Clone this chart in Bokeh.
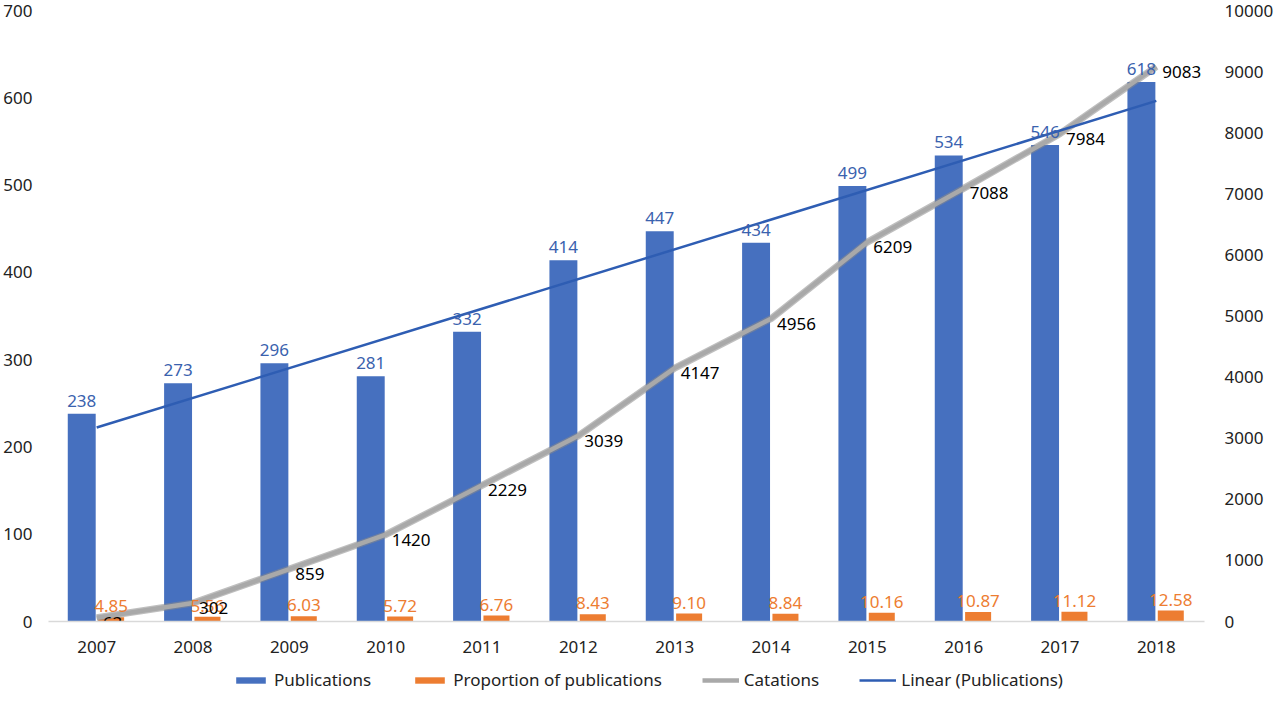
import numpy as np
from bokeh.plotting import figure
from bokeh.layouts import column
from bokeh.models import FactorRange, Range1d, LinearAxis, Legend, LegendItem, ColumnDataSource, FixedTicker
from bokeh.transform import dodge
from bokeh.core.properties import value
from bokeh.embed import file_html
from bokeh.resources import INLINE

years = [str(y) for y in range(2007, 2019)]
publications = [238, 273, 296, 281, 332, 414, 447, 434, 499, 534, 546, 618]
proportion = [4.85, 5.56, 6.03, 5.72, 6.76, 8.43, 9.10, 8.84, 10.16, 10.87, 11.12, 12.58]
citations = [63, 302, 859, 1420, 2229, 3039, 4147, 4956, 6209, 7088, 7984, 9083]
left_ticks = [0, 100, 200, 300, 400, 500, 600, 700]
right_ticks = [0, 1000, 2000, 3000, 4000, 5000, 6000, 7000, 8000, 9000, 10000]
series_names = ["Publications", "Proportion of publications", "Catations", "Linear (Publications)"]

FONT = "Noto Sans"
BLUE = "#4670BF"
ORANGE = "#ED7D31"
GRAY = "#A9A9A9"
TREND = "#2E5DB3"

src = ColumnDataSource(dict(
    year=years,
    pub=publications,
    prop=proportion,
    cit=citations,
    pub_lbl=[str(v) for v in publications],
    prop_lbl=["%.2f" % v for v in proportion],
    cit_lbl=[str(v) for v in citations],
))

p = figure(x_range=FactorRange(factors=years, range_padding=0),
           y_range=Range1d(0, 700),
           frame_width=1156, frame_height=611, output_backend="svg", toolbar_location=None,
           min_border_left=40, min_border_right=68, min_border_top=10, min_border_bottom=40)
p.extra_y_ranges = {"cit": Range1d(0, 10000)}
p.outline_line_color = None
p.xgrid.grid_line_color = None
p.ygrid.grid_line_color = None

p.vbar(x=dodge("year", -0.155, range=p.x_range), top="pub", width=0.29,
       source=src, fill_color=BLUE, line_color=None)
p.vbar(x=dodge("year", 0.15, range=p.x_range), top="prop", width=0.27,
       source=src, fill_color=ORANGE, line_color=None)

# citations line (right axis)
p.line(x="year", y="cit", source=src, y_range_name="cit", line_color="#8A8A8A",
       line_width=7, line_alpha=0.55, line_join="round")
p.line(x="year", y="cit", source=src, y_range_name="cit", line_color=GRAY,
       line_width=4.5, line_join="round")

# linear trend of publications
xi = np.arange(len(publications))
k, b = np.polyfit(xi, publications, 1)
p.line(x=[years[0], years[-1]], y=[b, b + k * xi[-1]], line_color=TREND, line_width=2.5)

# labels
p.text(x=dodge("year", -0.155, range=p.x_range), y="pub", text="pub_lbl", source=src,
       text_align="center", text_baseline="bottom", y_offset=-7,
       text_color="#3A62AE", text_font=value(FONT), text_font_size="17px")
p.text(x=dodge("year", 0.15, range=p.x_range), y="prop", text="prop_lbl", source=src,
       text_align="center", text_baseline="bottom", y_offset=-5,
       text_color=ORANGE, text_font=value(FONT), text_font_size="17px")
p.text(x="year", y="cit", text="cit_lbl", source=src, y_range_name="cit",
       text_align="left", text_baseline="middle", x_offset=6, y_offset=5,
       text_color="black", text_font=value(FONT), text_font_size="17px")

# axes
for ax in [p.xaxis[0], p.yaxis[0]]:
    ax.major_tick_line_color = None
    ax.minor_tick_line_color = None
    ax.major_label_text_font = FONT
    ax.major_label_text_font_size = "17px"
    ax.major_label_text_color = "#222222"
p.xaxis.axis_line_color = "#D9D9D9"
p.xaxis.axis_line_width = 1.5
p.xaxis.major_label_standoff = 13
p.yaxis.axis_line_color = None
p.yaxis.ticker = FixedTicker(ticks=left_ticks)
p.yaxis.major_label_standoff = 10

rax = LinearAxis(y_range_name="cit", ticker=FixedTicker(ticks=right_ticks))
rax.axis_line_color = None
rax.major_tick_line_color = None
rax.minor_tick_line_color = None
rax.major_label_text_font = FONT
rax.major_label_text_font_size = "17px"
rax.major_label_text_color = "#222222"
rax.major_label_standoff = 14
p.add_layout(rax, "right")

# legend strip (sample glyphs sit outside its visible range)
lg = figure(width=1264, height=32, x_range=Range1d(0, 1), y_range=Range1d(0, 1),
            x_axis_location=None, y_axis_location=None,
            output_backend="svg", toolbar_location=None, min_border=0)
lg.grid.grid_line_color = None
lg.outline_line_color = None
r1 = lg.vbar(x=[-5], top=[-4], bottom=[-5], width=0.1, fill_color=BLUE, line_color=None)
r2 = lg.vbar(x=[-5], top=[-4], bottom=[-5], width=0.1, fill_color=ORANGE, line_color=None)
r3 = lg.line(x=[-5, -4], y=[-5, -5], line_color=GRAY, line_width=4.5)
r4 = lg.line(x=[-5, -4], y=[-5, -5], line_color=TREND, line_width=2.5)

legend = Legend(items=[
    LegendItem(label=series_names[0], renderers=[r1]),
    LegendItem(label=series_names[1], renderers=[r2]),
    LegendItem(label=series_names[2], renderers=[r3]),
    LegendItem(label=series_names[3], renderers=[r4]),
], orientation="horizontal", location=(184, 2))
legend.border_line_color = None
legend.background_fill_alpha = 0
legend.label_text_font = FONT
legend.label_text_font_size = "17px"
legend.label_text_color = "#222222"
legend.glyph_width = 37
legend.glyph_height = 8
legend.label_standoff = 5
legend.spacing = 40
legend.margin = 0
legend.padding = 2
lg.add_layout(legend)

open("out.html", "w").write(file_html(column(p, lg, spacing=0), INLINE))
